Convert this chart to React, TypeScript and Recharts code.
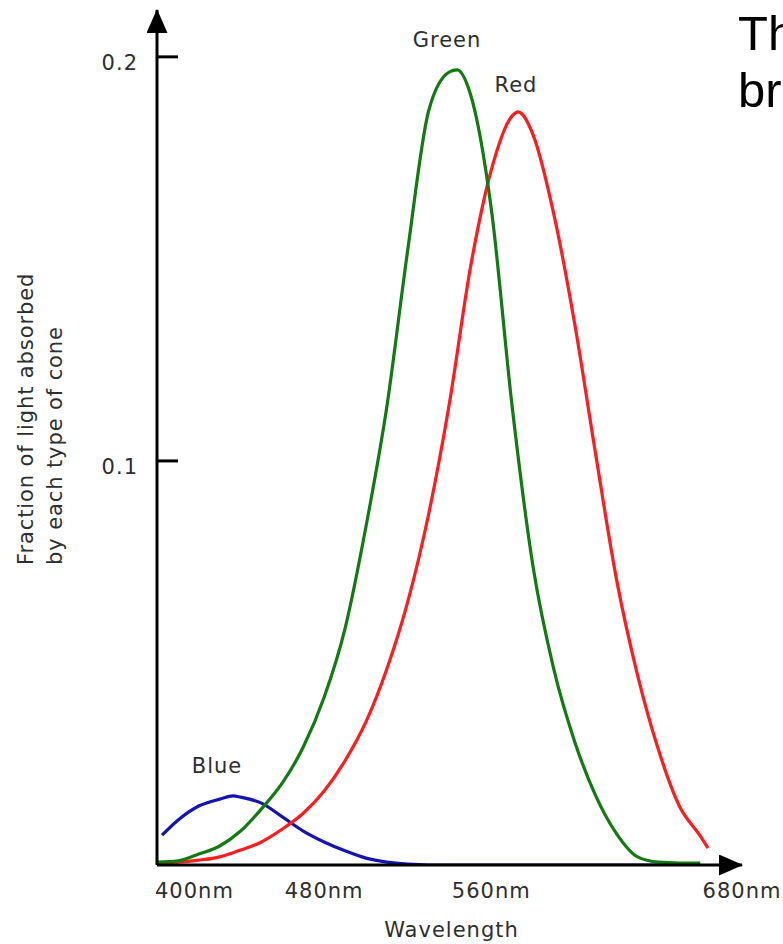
import { LineChart, Line, XAxis, YAxis, ReferenceDot } from 'recharts';

// absorption, per cone type (wavelength in nm, fraction absorbed)
const blueWavelengths = [402.4, 410, 420, 430, 436.4, 440, 450, 460, 470, 480, 490, 500, 510, 520, 530, 560, 600, 640, 660];
const blueValues = [0.0074, 0.0111, 0.0146, 0.0163, 0.0171, 0.0168, 0.0153, 0.0119, 0.0084, 0.0057, 0.0035, 0.0017, 0.0007, 0.0002, 0, 0, 0, 0, 0];

const greenWavelengths = [400, 410, 420, 430, 440, 450, 460, 470, 480, 490, 500, 510, 520, 530, 540, 543.6, 550, 560, 570, 580, 590, 600, 610, 620, 630, 640, 650, 660];
const greenValues = [0.0007, 0.001, 0.0027, 0.0047, 0.0084, 0.0139, 0.0203, 0.0292, 0.0415, 0.0585, 0.0837, 0.1134, 0.1522, 0.1866, 0.1963, 0.1968, 0.1908, 0.1624, 0.1134, 0.0738, 0.0483, 0.0304, 0.0171, 0.0077, 0.002, 0.0007, 0.0005, 0.0005];

const redWavelengths = [400, 410, 420, 430, 440, 450, 460, 470, 480, 490, 500, 510, 520, 530, 540, 550, 560, 570, 572.8, 580, 590, 600, 610, 620, 630, 640, 650, 660, 663.7];
const redValues = [0.0005, 0.0007, 0.0012, 0.002, 0.0037, 0.0057, 0.0089, 0.0128, 0.0183, 0.0258, 0.0354, 0.0485, 0.0651, 0.0868, 0.1144, 0.1478, 0.172, 0.1854, 0.1864, 0.1807, 0.1609, 0.1337, 0.1015, 0.0705, 0.047, 0.0285, 0.0146, 0.0072, 0.0042];

const xTicks = [400, 480, 560, 680];
const yTicks = [0.1, 0.2];

const toSeries = (ws: number[], vs: number[]) => ws.map((w, i) => ({ wavelength: w, value: vs[i] }));

const blueData = toSeries(blueWavelengths, blueValues);
const greenData = toSeries(greenWavelengths, greenValues);
const redData = toSeries(redWavelengths, redValues);

const FONT = '"DejaVu Sans", sans-serif';
const TEXT_COLOR = '#2e2e2e';

function WaveTick({ x, y, payload }: any) {
  const first = payload.value === 400;
  return (
    <text
      x={first ? x - 2 : x}
      y={y + 33}
      textAnchor={first ? 'start' : 'middle'}
      fontFamily={FONT}
      fontSize={21}
      letterSpacing={1}
      fill={TEXT_COLOR}
    >
      {payload.value}nm
    </text>
  );
}

function FractionTick({ x, y, payload }: any) {
  return (
    <g>
      <line x1={x} x2={x + 21} y1={y} y2={y} stroke="#000" strokeWidth={3} />
      <text
        x={x - 19}
        y={y + 13}
        textAnchor="end"
        fontFamily={FONT}
        fontSize={21}
        letterSpacing={1}
        fill={TEXT_COLOR}
      >
        {payload.value}
      </text>
    </g>
  );
}

function YTitle(props: any) {
  const vb = props.viewBox || { x: 0, y: 10, width: 157, height: 855 };
  const bottom = vb.y + vb.height - 300;
  const common = {
    fontFamily: FONT,
    fontSize: 21,
    letterSpacing: 0.9,
    fill: TEXT_COLOR,
    textAnchor: 'start' as const,
  };
  return (
    <g>
      <text transform={`translate(${vb.x + 33},${bottom}) rotate(-90)`} {...common}>
        Fraction of light absorbed
      </text>
      <text transform={`translate(${vb.x + 62},${bottom}) rotate(-90)`} {...common}>
        by each type of cone
      </text>
    </g>
  );
}

const seriesLabel = {
  position: 'center' as const,
  fontFamily: FONT,
  fontSize: 21,
  letterSpacing: 1,
  fill: TEXT_COLOR,
};

export default function App() {
  return (
    <div style={{ position: 'absolute', left: 0, top: 0, width: 783, height: 944, background: '#fff' }}>
      <LineChart width={783} height={944} margin={{ top: 10, right: 41, bottom: 0, left: 0 }}>
        <defs>
          <marker
            id="arrowHead"
            viewBox="0 0 24 21"
            markerWidth={24}
            markerHeight={21}
            refX={23}
            refY={10.5}
            orient="auto-start-reverse"
            markerUnits="userSpaceOnUse"
          >
            <path d="M0,0 L24,10.5 L0,21 Z" fill="#000" />
          </marker>
        </defs>
        <XAxis
          dataKey="wavelength"
          type="number"
          domain={[400, 680]}
          ticks={xTicks}
          interval={0}
          allowDataOverflow
          height={79}
          tickLine={false}
          tickSize={0}
          tickMargin={0}
          tick={<WaveTick />}
          axisLine={{ stroke: '#000', strokeWidth: 3, markerEnd: 'url(#arrowHead)' }}
          label={{
            value: 'Wavelength',
            position: 'insideBottom',
            offset: 7,
            dx: 2,
            fontFamily: FONT,
            fontSize: 21,
            letterSpacing: 1,
            fill: TEXT_COLOR,
          }}
        />
        <YAxis
          type="number"
          domain={[0, 0.2116]}
          ticks={yTicks}
          interval={0}
          allowDataOverflow
          width={157}
          tickLine={false}
          tickSize={0}
          tickMargin={0}
          tick={<FractionTick />}
          axisLine={{ stroke: '#000', strokeWidth: 3, markerStart: 'url(#arrowHead)' }}
          label={{ content: (p: any) => <YTitle {...p} /> }}
        />
        <Line
          data={blueData}
          dataKey="value"
          type="monotone"
          stroke="#1414b4"
          strokeWidth={3.2}
          dot={false}
          activeDot={false}
          isAnimationActive={false}
        />
        <Line
          data={redData}
          dataKey="value"
          type="monotone"
          stroke="#ff1c1c"
          strokeWidth={3.2}
          dot={false}
          activeDot={false}
          isAnimationActive={false}
        />
        <Line
          data={greenData}
          dataKey="value"
          type="monotone"
          stroke="#137a13"
          strokeWidth={3.2}
          dot={false}
          activeDot={false}
          isAnimationActive={false}
        />
        <ReferenceDot x={538.8} y={0.2043} r={0} fill="none" stroke="none" ifOverflow="visible" label={{ value: 'Green', ...seriesLabel }} />
        <ReferenceDot x={571.8} y={0.1932} r={0} fill="none" stroke="none" ifOverflow="visible" label={{ value: 'Red', ...seriesLabel }} />
        <ReferenceDot x={428.7} y={0.0246} r={0} fill="none" stroke="none" ifOverflow="visible" label={{ value: 'Blue', ...seriesLabel }} />
        <text x={738} y={50} fontFamily='"Liberation Sans", Arial, sans-serif' fontSize={49} fill="#000">
          Th
        </text>
        <text x={738} y={107} fontFamily='"Liberation Sans", Arial, sans-serif' fontSize={49} fill="#000">
          br
        </text>
      </LineChart>
    </div>
  );
}
